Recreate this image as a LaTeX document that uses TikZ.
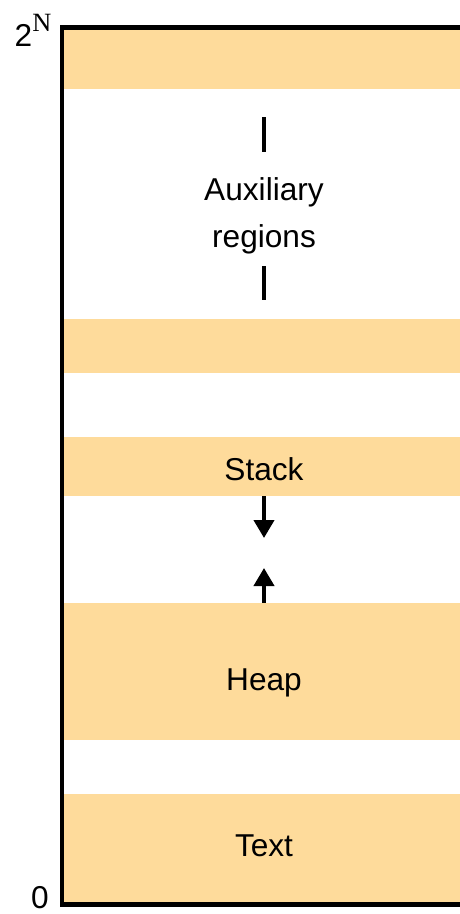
\documentclass[tikz,border=0pt]{standalone}
\usepackage{fontspec}
\setmainfont{Liberation Sans}
\newfontfamily\serif{Liberation Serif}
\usetikzlibrary{arrows.meta}
\definecolor{seg}{RGB}{254,219,155}

\begin{document}
\begin{tikzpicture}[x=0.02cm, y=-0.02cm, every node/.style={font=\fontsize{18}{26.5}\selectfont}, band/.style={fill=seg, inner sep=0pt, minimum width=7.96cm}, axis/.style={draw=black, line width=0.1cm}, growarrow/.style={draw=black, line width=0.08cm, -{Triangle[width=0.4cm, length=0.36cm]}}, bar/.style={draw=black, line width=0.08cm}]
			\useasboundingbox (0,0) rectangle (460,914);
			
			\node[band, minimum height=1.18cm] (top) at (262,59.5){};
			\node[band, minimum height=1.08cm] (aux) at (262,346){};
			\node[band, minimum height=1.18cm] (stack) at (262,466.5){};
			\node[band, minimum height=2.74cm] (heap) at (262,671.5){};
			\node[band, minimum height=2.16cm] (text) at (262,848){};
			
			\node[align=center] (auxlbl) at (264,216){Auxiliary\\regions};
			\node (stacklbl) at (264,469){Stack};
			\node (heaplbl) at (264,683){Heap};
			\node (textlbl) at (264,846){Text};
			\node (hi) at (33,30){2\raisebox{8.5pt}{\fontsize{15}{15}\serif N}};
			\node (lo) at (40,898){0};
			
			\coordinate (bara) at (264,117);
			\coordinate (barb) at (264,152);
			\coordinate (barc) at (264,266);
			\coordinate (bard) at (264,300);
			\coordinate (down) at (264,538);
			\coordinate (up) at (264,568);
			
			\draw[bar] (bara) -- (barb);
			\draw[bar] (barc) -- (bard);
			\draw[growarrow] (stack.south -| down) -- (down);
			\draw[growarrow] (heap.north -| up) -- (up);
			
			\draw[axis] (460,27.5) -- (62,27.5) -- (62,904.5) -- (460,904.5);
			\end{tikzpicture}
\end{document}
